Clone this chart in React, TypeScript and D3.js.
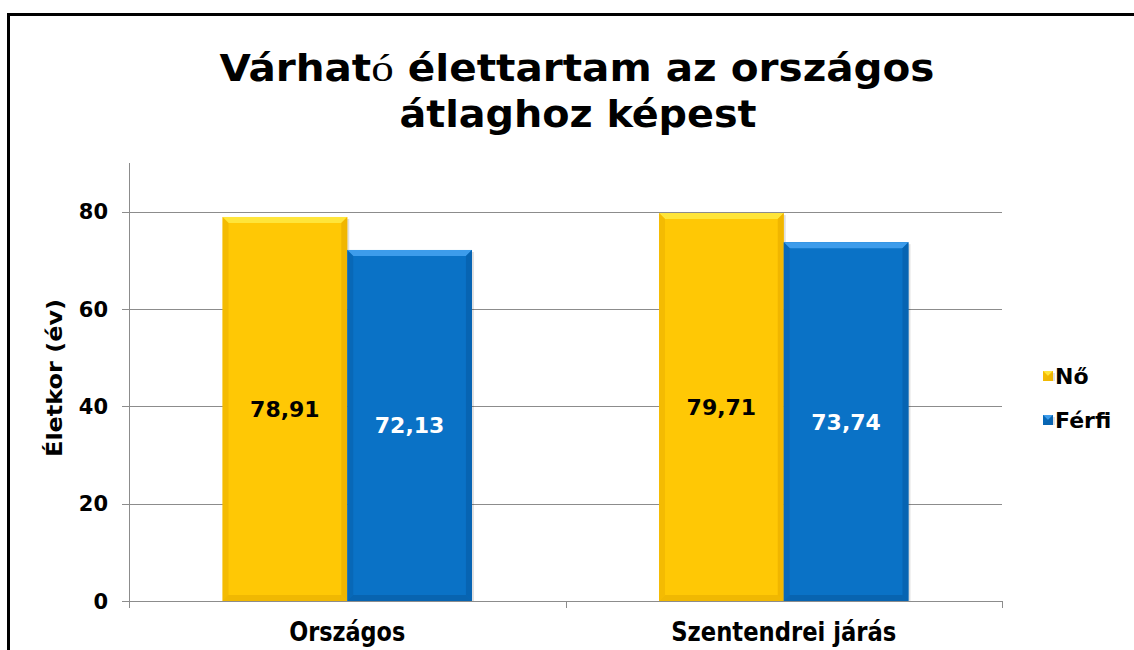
import React from "react";
import * as d3 from "d3";

const categories = ["Országos", "Szentendrei járás"];
const seriesNames = ["Nő", "Férfi"];
const noValues = [78.91, 79.71];
const ferfiValues = [72.13, 73.74];
const yTicks = [0, 20, 40, 60, 80];
const yMax = 90;

const W = 1134;
const H = 650;
const plotLeft = 129;
const plotRight = 1002;
const plotTop = 163;
const plotBottom = 601;

const palette: Record<string, { main: string; top: string; side: string; bottom: string; label: string }> = {
  "Nő": { main: "#FFC805", top: "#FFE53A", side: "#EDB300", bottom: "#E2A800", label: "#000" },
  "Férfi": { main: "#0A72C6", top: "#3D9CEB", side: "#0762AE", bottom: "#05569A", label: "#fff" },
};

const fmt = (v: number) => v.toFixed(2).replace(".", ",");

function BevelBar({ x, y, w, h, s }: { x: number; y: number; w: number; h: number; s: string }) {
  const c = palette[s];
  const b = Math.min(6, h / 2, w / 2);
  return (
    <g>
      <rect x={x + 2} y={y + 2} width={w} height={h - 2} fill="rgba(0,0,0,0.12)" />
      <rect x={x} y={y} width={w} height={h} fill={c.main} />
      <polygon points={`${x},${y} ${x + w},${y} ${x + w - b},${y + b} ${x + b},${y + b}`} fill={c.top} />
      <polygon points={`${x},${y} ${x + b},${y + b} ${x + b},${y + h - b} ${x},${y + h}`} fill={c.side} opacity={0.6} />
      <polygon points={`${x + w},${y} ${x + w - b},${y + b} ${x + w - b},${y + h - b} ${x + w},${y + h}`} fill={c.side} opacity={0.85} />
      <polygon points={`${x},${y + h} ${x + b},${y + h - b} ${x + w - b},${y + h - b} ${x + w},${y + h}`} fill={c.bottom} opacity={0.5} />
    </g>
  );
}

export default function App() {
  const y = d3.scaleLinear().domain([0, yMax]).range([plotBottom, plotTop]);
  const x0 = d3.scaleBand<string>().domain(categories).range([plotLeft, plotRight]).padding(0);
  const x1 = d3
    .scaleBand<string>()
    .domain(seriesNames)
    .range([0, x0.bandwidth()])
    .paddingInner(0)
    .paddingOuter(0.75);

  const data = categories.map((c, i) => ({ cat: c, vals: [noValues[i], ferfiValues[i]] }));
  const gridColor = "#8c8c8c";
  const verdana = "Verdana, 'DejaVu Sans', sans-serif";
  const cond = "'DejaVu Sans Condensed', 'Liberation Sans Narrow', 'DejaVu Sans', sans-serif";

  return (
    <svg width={W} height={H} style={{ position: "absolute", left: 0, top: 0, background: "#fff" }}>
      <rect x={0} y={0} width={W} height={H} fill="#fff" />
      {/* frame */}
      <rect x={8.5} y={14.5} width={W + 10} height={H + 10} fill="none" stroke="#000" strokeWidth={3} />

      {/* title */}
      <text x={577} y={81} textAnchor="middle" fontFamily={cond} fontWeight="bold" fontSize={38} fill="#000"
        textLength={715} lengthAdjust="spacingAndGlyphs">
        Várhat<tspan fontFamily="'Liberation Serif', 'DejaVu Serif', serif" fontWeight="normal">ó</tspan> élettartam az országos
      </text>
      <text x={578} y={127} textAnchor="middle" fontFamily={cond} fontWeight="bold" fontSize={38} fill="#000"
        textLength={357} lengthAdjust="spacingAndGlyphs">
        átlaghoz képest
      </text>

      {/* gridlines */}
      {yTicks.filter((t) => t > 0).map((t) => (
        <line key={t} x1={plotLeft} x2={plotRight} y1={Math.round(y(t)) + 0.5} y2={Math.round(y(t)) + 0.5} stroke={gridColor} strokeWidth={1} />
      ))}

      {/* bars */}
      {data.map((d) => (
        <g key={d.cat}>
          {seriesNames.map((s, j) => {
            const bx = (x0(d.cat) as number) + (x1(s) as number);
            const by = y(d.vals[j]);
            return <BevelBar key={s} x={bx} y={by} w={x1.bandwidth()} h={plotBottom - by} s={s} />;
          })}
        </g>
      ))}

      {/* y axis */}
      <line x1={plotLeft + 0.5} x2={plotLeft + 0.5} y1={plotTop} y2={plotBottom} stroke={gridColor} />
      {yTicks.map((t) => (
        <g key={t}>
          <line x1={plotLeft - 7} x2={plotLeft} y1={Math.round(y(t)) + 0.5} y2={Math.round(y(t)) + 0.5} stroke={gridColor} />
          <text x={108} y={y(t) + 7.5} textAnchor="end" fontFamily={verdana} fontWeight="bold" fontSize={21} fill="#000">
            {t}
          </text>
        </g>
      ))}

      {/* x axis */}
      <line x1={plotLeft} x2={plotRight} y1={plotBottom + 0.5} y2={plotBottom + 0.5} stroke={gridColor} />
      {[...categories.map((c) => x0(c) as number), plotRight].map((xv, i) => (
        <line key={i} x1={Math.round(xv) + 0.5} x2={Math.round(xv) + 0.5} y1={plotBottom} y2={plotBottom + 7} stroke={gridColor} />
      ))}
      {categories.map((c, i) => (
        <text key={c} x={(x0(c) as number) + x0.bandwidth() / 2} y={641} textAnchor="middle" fontFamily={cond}
          fontWeight="bold" fontSize={26} fill="#000" textLength={i === 0 ? 116 : 225} lengthAdjust="spacingAndGlyphs">
          {c}
        </text>
      ))}

      {/* data labels */}
      {data.map((d) =>
        seriesNames.map((s, j) => {
          const bx = (x0(d.cat) as number) + (x1(s) as number) + x1.bandwidth() / 2;
          const cy = (y(d.vals[j]) + plotBottom) / 2;
          return (
            <text key={d.cat + s} x={bx} y={cy + 8} textAnchor="middle" fontFamily={verdana} fontWeight="bold"
              fontSize={22} fill={palette[s].label}>
              {fmt(d.vals[j])}
            </text>
          );
        })
      )}

      {/* y title */}
      <text transform="translate(62,378) rotate(-90)" textAnchor="middle" fontFamily={verdana} fontWeight="bold"
        fontSize={21} fill="#000" textLength={158} lengthAdjust="spacingAndGlyphs">
        Életkor (év)
      </text>

      {/* legend */}
      {seriesNames.map((s, i) => {
        const ly = 376 + i * 44;
        return (
          <g key={s}>
            <BevelBar x={1043} y={ly - 5} w={10} h={10} s={s} />
            <text x={1055} y={ly + 8} fontFamily={verdana} fontWeight="bold" fontSize={22} fill="#000">
              {s}
            </text>
          </g>
        );
      })}
    </svg>
  );
}
